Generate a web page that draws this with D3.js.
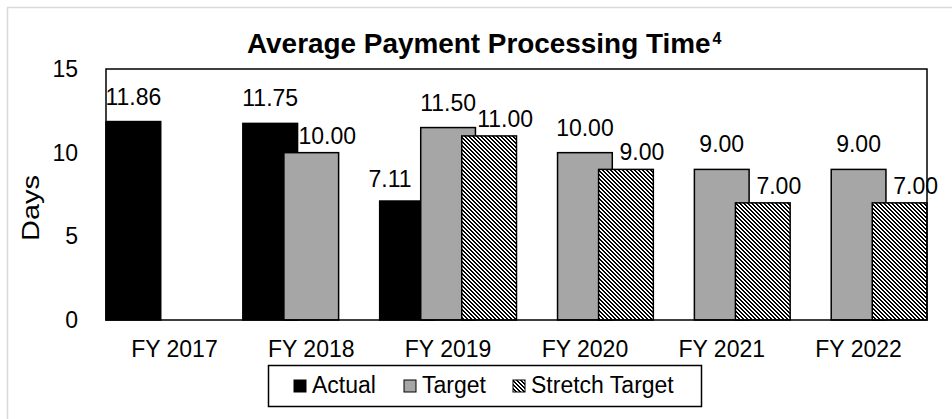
<!DOCTYPE html>
<html>
<head>
<meta charset="utf-8">
<script src="https://cdn.jsdelivr.net/npm/d3@7"></script>
<style>
  body { margin: 0; background: #fff; }
  svg { display: block; font-family: Arial, "Liberation Sans", sans-serif; }
</style>
</head>
<body>
<svg width="952" height="419"></svg>
<script>
let categories = ["FY 2017", "FY 2018", "FY 2019", "FY 2020", "FY 2021", "FY 2022"];
let actual = [11.86, 11.75, 7.11, null, null, null];
let target = [null, 10.00, 11.50, 10.00, 9.00, 9.00];
let stretch = [null, null, 11.00, 9.00, 7.00, 7.00];
let seriesNames = ["Actual", "Target", "Stretch Target"];
let yTicks = [0, 5, 10, 15];

let plot = ({left: 106, top: 69, right: 927, bottom: 320});
let fills = ["#000", "#a6a6a6", "url(#hatch)"];
let series = [actual, target, stretch];

let svg = d3.select("svg");

// hatch pattern for the stretch target, pixel-aligned "\" stripes
let defs = svg.append("defs");
let pat = defs.append("pattern")
    .attr("id", "hatch")
    .attr("patternUnits", "userSpaceOnUse")
    .attr("width", 4)
    .attr("height", 4)
    .attr("shape-rendering", "crispEdges");
pat.append("rect").attr("width", 4).attr("height", 4).attr("fill", "#fff");
[0, 1, 2, 3].forEach(r => {
    [r, (r + 1) % 4].forEach(c => {
        pat.append("rect").attr("x", c).attr("y", r).attr("width", 1).attr("height", 1).attr("fill", "#000");
    });
});

// outer chart border
svg.append("rect")
    .attr("x", 7.5).attr("y", 7.5)
    .attr("width", 1000).attr("height", 500)
    .attr("fill", "none")
    .attr("stroke", "#d9d9d9")
    .attr("stroke-width", 1.5);

let x = d3.scaleBand(categories, [plot.left, plot.right]).padding(0);
let y = d3.scaleLinear([0, 15], [plot.bottom, plot.top]);

// bars overlap each other by 25%
let barW = x.bandwidth() / 2.5;
let offset = d3.scaleLinear([0, seriesNames.length - 1], [0, x.bandwidth() - barW]);

// title
svg.append("text")
    .attr("x", 247)
    .attr("y", 53)
    .attr("font-size", 27.9)
    .attr("font-weight", "bold")
    .text("Average Payment Processing Time")
    .append("tspan")
    .attr("font-size", 16)
    .attr("dx", 2)
    .attr("dy", -9)
    .text("4");

// axes
svg.append("g")
    .attr("transform", `translate(${plot.left},0)`)
    .call(d3.axisLeft(y).tickValues(yTicks).tickSize(0).tickPadding(28))
    .call(g => g.select(".domain").remove())
    .call(g => g.selectAll("text").attr("font-size", 23).attr("font-family", null).attr("fill", "#000"));

svg.append("g")
    .attr("transform", `translate(0,${plot.bottom})`)
    .call(d3.axisBottom(x).tickSize(0).tickPadding(21))
    .call(g => g.select(".domain").remove())
    .call(g => g.selectAll("text").attr("font-size", 23).attr("font-family", null).attr("fill", "#000"));

svg.append("text")
    .attr("transform", `translate(38.5,208) rotate(-90)`)
    .attr("text-anchor", "middle")
    .attr("font-size", 23)
    .attr("textLength", 66)
    .attr("lengthAdjust", "spacingAndGlyphs")
    .text("Days");

// bars
series.forEach((vals, si) => {
    svg.append("g")
        .selectAll("rect")
        .data(categories.map((c, i) => ({c, v: vals[i]})).filter(d => d.v != null))
        .join("rect")
        .attr("x", d => x(d.c) + offset(si))
        .attr("y", d => y(d.v))
        .attr("width", barW)
        .attr("height", d => y(0) - y(d.v))
        .attr("fill", fills[si])
        .attr("stroke", "#000")
        .attr("stroke-width", 1.5);
});

// plot area border
svg.append("rect")
    .attr("x", plot.left).attr("y", plot.top)
    .attr("width", plot.right - plot.left)
    .attr("height", plot.bottom - plot.top)
    .attr("fill", "none")
    .attr("stroke", "#000")
    .attr("stroke-width", 1.5);

// data labels: nudge away from a taller neighbouring bar
series.forEach((vals, si) => {
    categories.forEach((c, i) => {
        let v = vals[i];
        if (v == null) return;
        let prev = si > 0 ? series[si - 1][i] : null;
        let next = si < series.length - 1 ? series[si + 1][i] : null;
        let dx = 0, dy = -17;
        if (prev != null && prev > v) { dx = 16; dy = -9; }
        else if (next != null && next > v) { dx = -17; dy = -14; }
        svg.append("text")
            .attr("x", x(c) + offset(si) + barW / 2 + dx)
            .attr("y", y(v) + dy)
            .attr("text-anchor", "middle")
            .attr("font-size", 23)
            .text(v.toFixed(2));
    });
});

// legend
let legend = svg.append("g");
legend.append("rect")
    .attr("x", 268.5).attr("y", 365.5)
    .attr("width", 433).attr("height", 41)
    .attr("fill", "#fff")
    .attr("stroke", "#000")
    .attr("stroke-width", 1.5);
let legendX = [294, 404, 513];
seriesNames.forEach((name, si) => {
    legend.append("rect")
        .attr("x", legendX[si]).attr("y", 380)
        .attr("width", 12).attr("height", 12)
        .attr("fill", fills[si])
        .attr("stroke", "#000")
        .attr("stroke-width", 1);
    legend.append("text")
        .attr("x", legendX[si] + 18)
        .attr("y", 393)
        .attr("font-size", 23)
        .text(name);
});
</script>
</body>
</html>
